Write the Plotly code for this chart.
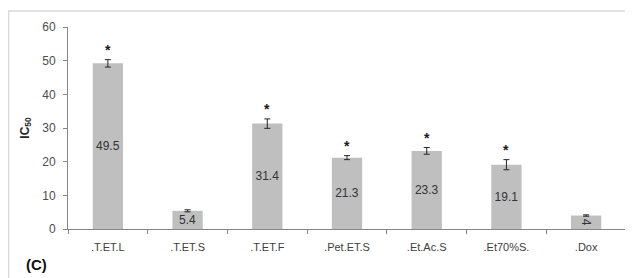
import plotly.graph_objects as go

categories = [".T.ET.L", ".T.ET.S", ".T.ET.F", ".Pet.ET.S", ".Et.Ac.S", ".Et70%S.", ".Dox"]
ic50_values = [49.5, 5.4, 31.4, 21.3, 23.3, 19.1, 4]
bar_heights = [49.2, 5.4, 31.3, 21.2, 23.2, 19.1, 4.0]
error_values = [1.1, 0.3, 1.4, 0.6, 1.0, 1.5, 0.2]
significant = [True, False, True, True, True, True, False]

FONT = "Liberation Sans, Arial, sans-serif"

fig = go.Figure()
fig.add_trace(go.Bar(
    x=categories,
    y=bar_heights,
    marker=dict(color="#BFBFBF", line=dict(width=0)),
    error_y=dict(type="data", array=error_values, color="#262626", thickness=1, width=3),
    text=[str(v) for v in ic50_values],
    textposition="inside",
    insidetextanchor="middle",
    constraintext="none",
    textfont=dict(family=FONT, size=12, color="#333333"),
    showlegend=False,
))

for c, v, e, s in zip(categories, bar_heights, error_values, significant):
    if s:
        fig.add_annotation(x=c, y=v + e, text="<b>*</b>", showarrow=False, yanchor="bottom",
                           yshift=0, font=dict(family=FONT, size=14, color="#1A1A1A"))

# outer frame
fig.add_shape(type="rect", xref="paper", yref="paper",
              x0=-0.1066, x1=1.05, y0=-0.30, y1=1.079,
              line=dict(color="#D9D9D9", width=1.5), fillcolor="rgba(0,0,0,0)", layer="below")

fig.add_annotation(xref="paper", yref="paper", x=-0.079, y=-0.178, text="<b>(C)</b>",
                   showarrow=False, xanchor="left", yanchor="middle",
                   font=dict(family=FONT, size=15, color="#111111"))

fig.update_layout(
    width=625, height=270,
    margin=dict(l=60, r=7, t=19, b=49),
    paper_bgcolor="white", plot_bgcolor="white",
    bargap=0.62,
    font=dict(family=FONT, color="#595959"),
    xaxis=dict(
        showline=True, linecolor="#868686", linewidth=1,
        ticks="outside", ticklen=4, tickcolor="#868686", tickson="boundaries",
        ticklabelstandoff=8,
        tickfont=dict(family=FONT, size=11, color="#404040"),
        showgrid=False,
    ),
    yaxis=dict(
        range=[0, 60], dtick=10,
        showline=True, linecolor="#868686", linewidth=1,
        ticks="outside", ticklen=4, tickcolor="#868686",
        ticklabelstandoff=5,
        tickfont=dict(family=FONT, size=12, color="#4D4D4D"),
        showgrid=False, zeroline=False,
        title=dict(text="<b>IC<sub>50</sub></b>", standoff=10,
                   font=dict(family=FONT, size=12, color="#262626")),
    ),
)

fig.write_html("out.html")
